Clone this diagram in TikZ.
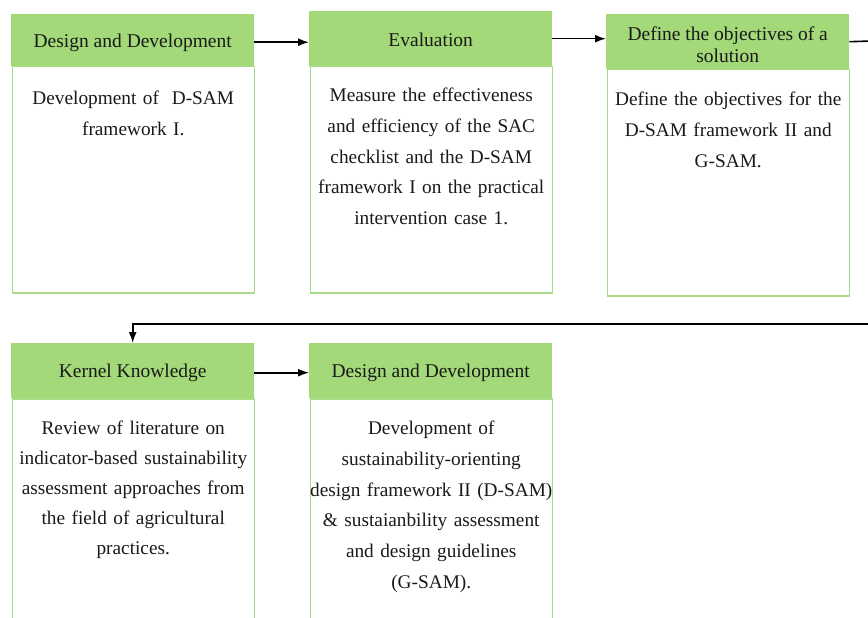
\documentclass[tikz,border=0pt]{standalone}
\usepackage{fontspec}
\setmainfont{Liberation Serif}
\usetikzlibrary{arrows.meta,calc}
\definecolor{hdr}{HTML}{A3D978}
\definecolor{bdr}{HTML}{A8DC88}
\definecolor{ink}{HTML}{1A1A1A}
\begin{document}
\begin{tikzpicture}[x=1pt,y=-1pt,
  hdrbox/.style={fill=hdr, draw=none, minimum width=243pt, inner sep=0pt},
  hdrtext/.style={inner sep=0pt, align=center, text=ink,
    font=\fontsize{19.5}{22}\selectfont},
  bodybox/.style={draw=bdr, line width=1.5pt, fill=white, minimum width=242pt, inner sep=0pt},
  bodytext/.style={text width=250pt, align=center, inner sep=0pt, text=ink,
    font=\fontsize{19.3}{30.7}\selectfont},
  arr/.style={draw=black, line width=1.6pt, -{Latex[length=11pt,width=8pt]}},
  link/.style={draw=black, line width=1.6pt}]
\useasboundingbox (0,0) rectangle (868,618);
\clip (0,0) rectangle (868,618);
% boxes
\node[bodybox, minimum height=226pt, anchor=north west] (b1) at (11.5,66) {};
\node[hdrbox, minimum height=52pt, anchor=north west] (h1) at (11,14) {};
\node[hdrtext] (l1) at ([yshift=-2.5pt]h1.center) {Design and Development};
\node[bodytext, anchor=north] (t1) at ([yshift=-25pt]b1.north) {Development of\ \ D-SAM\\framework I.};

\node[bodybox, minimum height=226pt, anchor=north west] (b2) at (309.5,66) {};
\node[hdrbox, minimum height=55pt, anchor=north west] (h2) at (309,11) {};
\node[hdrtext] (l2) at ([yshift=-1.5pt]h2.center) {Evaluation};
\node[bodytext, anchor=north] (t2) at ([yshift=-22pt]b2.north) {Measure the effectiveness\\and efficiency of the SAC\\checklist and the D-SAM\\framework I on the practical\\intervention case 1.};

\node[bodybox, minimum height=226pt, anchor=north west] (b3) at (606.5,69) {};
\node[hdrbox, minimum height=55pt, anchor=north west] (h3) at (606,14) {};
\node[hdrtext] (l3) at ([yshift=-3pt]h3.center) {Define the objectives of a\\solution};
\node[bodytext, anchor=north] (t3) at ([yshift=-23pt]b3.north) {Define the objectives for the\\D-SAM framework II and\\G-SAM.};

\node[bodybox, minimum height=260pt, anchor=north west] (b4) at (11.5,398) {};
\node[hdrbox, minimum height=55pt, anchor=north west] (h4) at (11,343) {};
\node[hdrtext] (l4) at ([yshift=-2.5pt]h4.center) {Kernel Knowledge};
\node[bodytext, anchor=north, font=\fontsize{19.3}{30}\selectfont] (t4) at ([yshift=-23pt]b4.north) {Review of literature on\\indicator-based sustainability\\assessment approaches from\\the field of agricultural\\practices.};

\node[bodybox, minimum height=260pt, anchor=north west] (b5) at (309.5,398) {};
\node[hdrbox, minimum height=55pt, anchor=north west] (h5) at (309,343) {};
\node[hdrtext] (l5) at ([yshift=-2.5pt]h5.center) {Design and Development};
\node[bodytext, anchor=north] (t5) at ([yshift=-23pt]b5.north) {Development of\\sustainability-orienting\\design framework II (D-SAM)\\\& sustaianbility assessment\\and design guidelines\\(G-SAM).};
% connectors
\coordinate (c1) at (872,41);
\coordinate (c2) at (872,324);
\draw[arr] ([yshift=-2pt]h1.east) -- ([yshift=-2pt]h1.east -| h2.west);
\draw[arr] (h2.east) -- (h2.east -| h3.west);
\draw[link] (h3.east) -- (c1);
\draw[arr] (c2) -| (h4.north);
\draw[arr] ([yshift=-2pt]h4.east) -- ([yshift=-2pt]h4.east -| h5.west);
\end{tikzpicture}
\end{document}
